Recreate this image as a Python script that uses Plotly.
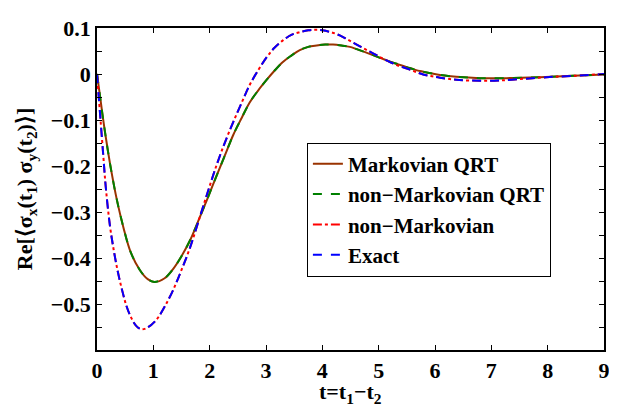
import plotly.graph_objects as go

# ---- data ----
t_exact = [0, 0.05, 0.11, 0.155, 0.23, 0.3, 0.37, 0.45, 0.52, 0.6, 0.7, 0.79, 0.9, 1.05,
           1.2, 1.35, 1.5, 1.65, 1.82, 1.97, 2.12, 2.27, 2.42, 2.57, 2.71, 2.86, 3.01,
           3.15, 3.3, 3.45, 3.6, 3.75, 3.87, 4.0, 4.15, 4.31, 4.46, 4.61, 4.76, 4.9, 5.05,
           5.2, 5.35, 5.5, 5.65, 5.79, 5.95, 6.09, 6.38, 6.8, 7.15, 7.57, 7.98, 8.45, 9.0]
y_exact = [0, -0.08, -0.175, -0.245, -0.33, -0.385, -0.43, -0.472, -0.503, -0.528, -0.548,
           -0.555, -0.551, -0.535, -0.506, -0.47, -0.426, -0.378, -0.313, -0.255, -0.199,
           -0.149, -0.104, -0.062, -0.024, 0.008, 0.036, 0.057, 0.073, 0.085, 0.091,
           0.095, 0.096, 0.095, 0.091, 0.084, 0.074, 0.064, 0.054, 0.045, 0.035, 0.026,
           0.018, 0.012, 0.005, -0.001, -0.005, -0.008, -0.0126, -0.0147, -0.014,
           -0.0105, -0.007, -0.004, 0.0]

t_nonmark = list(t_exact)
y_nonmark = list(y_exact)

t_mqrt = [0, 0.05, 0.12, 0.2, 0.26, 0.35, 0.47, 0.6, 0.76, 0.9, 1.02, 1.2, 1.35, 1.5, 1.65,
          1.82, 1.97, 2.12, 2.27, 2.42, 2.57, 2.71, 2.86, 3.01, 3.15, 3.3, 3.45, 3.6,
          3.75, 3.9, 4.05, 4.19, 4.34, 4.49, 4.61, 4.76, 4.9, 5.05, 5.2, 5.35, 5.5, 5.65,
          5.79, 5.95, 6.09, 6.38, 6.8, 7.27, 7.86, 8.45, 9.0]
y_mqrt = [0, -0.045, -0.108, -0.172, -0.215, -0.272, -0.334, -0.388, -0.426, -0.446,
          -0.452, -0.444, -0.424, -0.396, -0.362, -0.313, -0.268, -0.222, -0.177,
          -0.132, -0.095, -0.062, -0.036, -0.013, 0.007, 0.026, 0.040, 0.052, 0.059,
          0.062, 0.064, 0.064, 0.062, 0.059, 0.054, 0.0475, 0.041, 0.034, 0.027, 0.021,
          0.015, 0.009, 0.005, 0.001, -0.002, -0.006, -0.009, -0.009, -0.007, -0.004,
          -0.001]

t_nmqrt = list(t_mqrt)
y_nmqrt = list(y_mqrt)

x_ticks = [0, 1, 2, 3, 4, 5, 6, 7, 8, 9]
y_ticks = [-0.6, -0.55, -0.5, -0.45, -0.4, -0.35, -0.3, -0.25, -0.2, -0.15, -0.1, -0.05,
           0, 0.05, 0.1]
y_ticktext = ["", "", "\u22120.5", "", "\u22120.4", "", "\u22120.3", "", "\u22120.2", "",
              "\u22120.1", "", "0", "", "0.1"]

FONT = "Liberation Serif"

fig = go.Figure()
fig.add_trace(go.Scatter(x=t_mqrt, y=y_mqrt, mode="lines", name="Markovian QRT",
                         line=dict(color="#993300", width=2, shape="spline")))
fig.add_trace(go.Scatter(x=t_nmqrt, y=y_nmqrt, mode="lines", name="non\u2212Markovian QRT",
                         line=dict(color="#008000", width=2, dash="dash", shape="spline")))
fig.add_trace(go.Scatter(x=t_nonmark, y=y_nonmark, mode="lines", name="non\u2212Markovian",
                         line=dict(color="#ff0000", width=2, dash="dashdot", shape="spline")))
fig.add_trace(go.Scatter(x=t_exact, y=y_exact, mode="lines", name="Exact",
                         line=dict(color="#0000ff", width=2, dash="dash", shape="spline")))

axis_common = dict(showline=True, linecolor="black", linewidth=1.5, mirror="ticks",
                   ticks="inside", ticklen=5, tickcolor="black", showgrid=False,
                   zeroline=False, ticklabeloverflow="allow",
                   tickfont=dict(family=FONT, size=22, color="black", weight="bold"))

fig.update_xaxes(range=[0, 9], tickvals=x_ticks, ticktext=[str(v) for v in x_ticks],
                 **axis_common)
fig.update_yaxes(range=[-0.6, 0.1], tickvals=y_ticks, ticktext=y_ticktext,
                 title=dict(text="Re[\u27e8\u03c3<sub>x</sub>(t<sub>1</sub>) \u03c3<sub>y</sub>(t<sub>2</sub>)\u27e9]",
                            standoff=12,
                            font=dict(family=FONT, size=22, color="black", weight="bold")),
                 **axis_common)

# x-axis title as a paper annotation so it sits just under the tick labels
fig.add_annotation(x=0.5, y=-0.085, xref="paper", yref="paper", showarrow=False,
                   xanchor="center", yanchor="top",
                   text="t=t<sub>1</sub>\u2212t<sub>2</sub>",
                   font=dict(family=FONT, size=22, color="black", weight="bold"))

fig.update_layout(
    width=617, height=409,
    margin=dict(l=89, r=21, t=8, b=67),
    plot_bgcolor="white", paper_bgcolor="white",
    font=dict(family=FONT, color="black", weight="bold"),
    legend=dict(x=0.414, y=0.644, xanchor="left", yanchor="top",
                bgcolor="white", bordercolor="black", borderwidth=1,
                font=dict(family=FONT, size=21, color="black", weight="bold"),
                tracegroupgap=0),
    showlegend=True,
)

fig.write_html("out.html")
